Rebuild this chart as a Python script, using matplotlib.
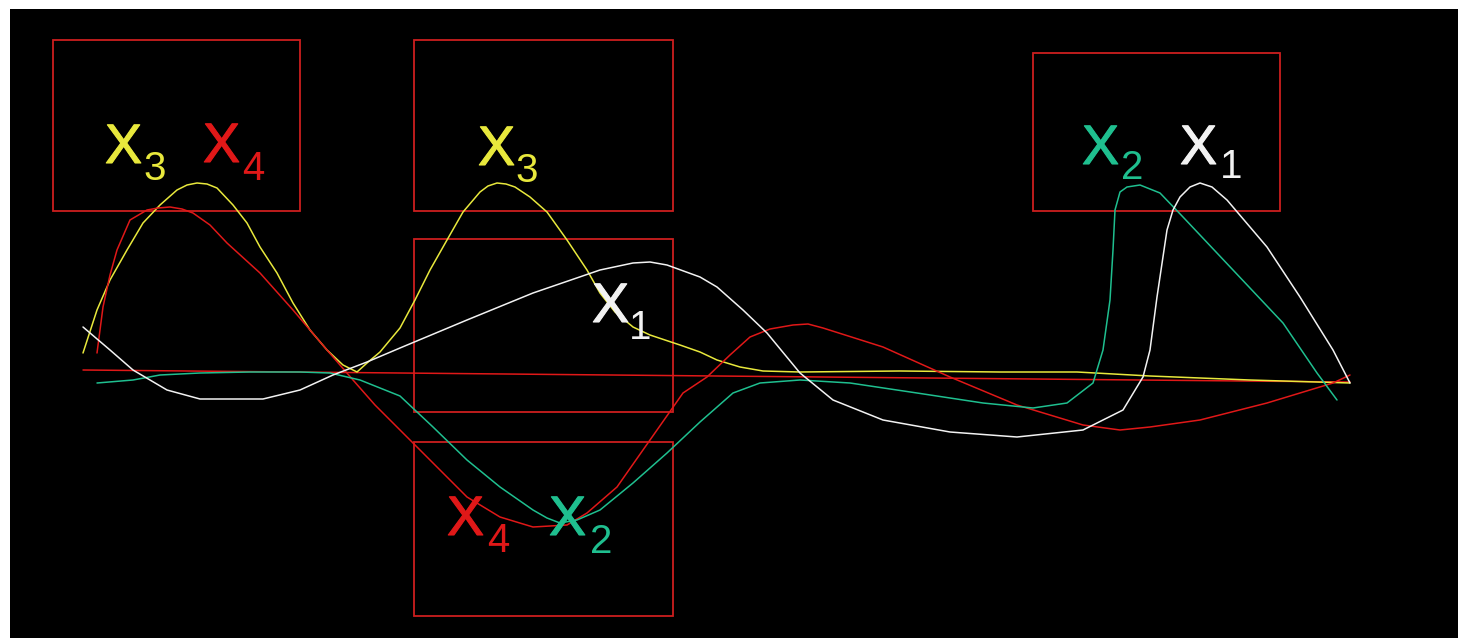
import matplotlib
matplotlib.use("Agg")
import matplotlib.pyplot as plt
from matplotlib.patches import Rectangle
import matplotlib.patheffects as pe

# ---- series (x position, amplitude relative to the reference line) ----
x1 = [83, 110, 133, 167, 200, 263, 300, 333, 367, 400, 467, 533, 600, 633, 650, 667, 700,
      717, 743, 767, 800, 833, 883, 950, 1017, 1083, 1123, 1143, 1150, 1157, 1167,
      1173, 1180, 1190, 1200, 1212, 1227, 1267, 1300, 1333, 1350]
y1 = [45, 22, 2, -18, -27, -27, -18, -3, 10, 24, 52, 79, 102, 109, 110, 107, 95,
      85, 62, 39, -1, -28, -48, -60, -65, -58, -38, -5, 22, 75, 142,
      162, 175, 185, 189, 185, 172, 125, 75, 22, -11]

x2 = [97, 133, 160, 200, 250, 300, 330, 360, 400, 433, 467, 500, 533, 547, 560, 577, 600,
      633, 667, 700, 733, 760, 800, 850, 917, 983, 1033, 1067, 1093, 1103, 1110,
      1113, 1115, 1120, 1127, 1140, 1160, 1183, 1233, 1283, 1317, 1337]
y2 = [-11, -8, -3, -1, 0, 0, -1, -8, -24, -55, -88, -115, -138, -146, -151, -148, -138,
      -111, -81, -50, -21, -11, -8, -11, -21, -31, -36, -31, -11, 22, 72,
      122, 162, 180, 185, 187, 179, 155, 102, 49, -1, -28]

x3 = [83, 97, 110, 127, 143, 160, 177, 187, 197, 207, 217, 233, 247, 260, 277, 293, 310, 327,
      343, 357, 367, 380, 400, 415, 430, 447, 463, 480, 488, 497, 506, 515, 530, 547, 567,
      587, 600, 615, 633, 650, 680, 700, 717, 740, 763, 800, 900, 1000, 1077, 1150, 1250, 1350]
y3 = [19, 62, 92, 122, 149, 167, 182, 187, 189, 188, 184, 167, 149, 125, 99, 69, 42, 22,
      7, 0, 9, 20, 44, 72, 102, 132, 160, 180, 186, 189, 188, 185, 175, 160, 132,
      102, 79, 60, 45, 37, 27, 20, 12, 5, 1, 0, 1, 0, 0, -4, -8, -11]

x4 = [97, 103, 110, 117, 130, 147, 158, 170, 182, 193, 210, 227, 260, 293, 327, 353, 375, 400,
      433, 467, 500, 533, 567, 587, 617, 650, 683, 707, 730, 750, 770, 793, 808, 823, 883, 950,
      1017, 1083, 1120, 1150, 1200, 1267, 1333, 1350]
y4 = [19, 65, 97, 122, 152, 162, 164, 165, 163, 159, 147, 129, 99, 62, 22, -8, -33, -58,
      -91, -125, -145, -155, -153, -141, -115, -68, -21, -5, 17, 35, 43, 47, 48, 44, 25, -5,
      -33, -53, -58, -55, -48, -31, -11, -3]

x_ref = [83, 1350]
y_ref = [2, -10]

# ---- annotation boxes: (x0, x1, amp_bottom, amp_top) ----
boxes = [
    (53, 300, 161, 332),
    (414, 673, 161, 332),
    (414, 673, -40, 133),
    (414, 673, -244, -70),
    (1033, 1280, 161, 319),
]

# ---- labels: (subscript, colour key, x of X, baseline of X, x of sub, baseline of sub) ----
labels = [
    ("3", "x3", 105, 209, 143, 192),
    ("4", "x4", 203, 210, 242, 192),
    ("3", "x3", 478, 207, 515, 190),
    ("1", "x1", 592, 50, 629, 33),
    ("4", "x4", 447, -163, 487, -180),
    ("2", "x2", 549, -163, 590, -181),
    ("2", "x2", 1082, 208, 1121, 193),
    ("1", "x1", 1180, 208, 1220, 194),
]

colors = {
    "x1": "#f2f2f2",
    "x2": "#1fbf8f",
    "x3": "#e8e83c",
    "x4": "#e01818",
}
box_color = "#cc1e1e"

W, H, DPI = 1458, 638, 100
fig = plt.figure(figsize=(W / DPI, H / DPI), dpi=DPI, facecolor="white")
ax = fig.add_axes([10 / W, 0, (W - 10) / W, (H - 9) / H])
ax.set_facecolor("black")
ax.set_xlim(10, 1458)
ax.set_ylim(372 - 638, 372 - 9)
ax.set_xticks([])
ax.set_yticks([])
for s in ax.spines.values():
    s.set_visible(False)

for (bx0, bx1, by0, by1) in boxes:
    ax.add_patch(Rectangle((bx0, by0), bx1 - bx0, by1 - by0, fill=False,
                           edgecolor=box_color, linewidth=1.3, zorder=1))

lw = 1.1
style = dict(lw=lw, solid_joinstyle="round", solid_capstyle="round")
ax.plot(x_ref, y_ref, color=colors["x4"], zorder=2, **style)
ax.plot(x3, y3, color=colors["x3"], zorder=3, **style)
ax.plot(x4, y4, color=colors["x4"], zorder=3, **style)
ax.plot(x2, y2, color=colors["x2"], zorder=3, **style)
ax.plot(x1, y1, color=colors["x1"], zorder=3, **style)

for sub, key, xx, xy, sx, sy in labels:
    c = colors[key]
    ax.text(xx, xy, "X", color=c, fontsize=40, family="Liberation Sans",
            ha="left", va="baseline", zorder=4,
            path_effects=[pe.withStroke(linewidth=0.8, foreground=c)])
    ax.text(sx, sy, sub, color=c, fontsize=29, family="Liberation Sans",
            ha="left", va="baseline", zorder=4)

fig.savefig("out.png", dpi=DPI, facecolor=fig.get_facecolor())
